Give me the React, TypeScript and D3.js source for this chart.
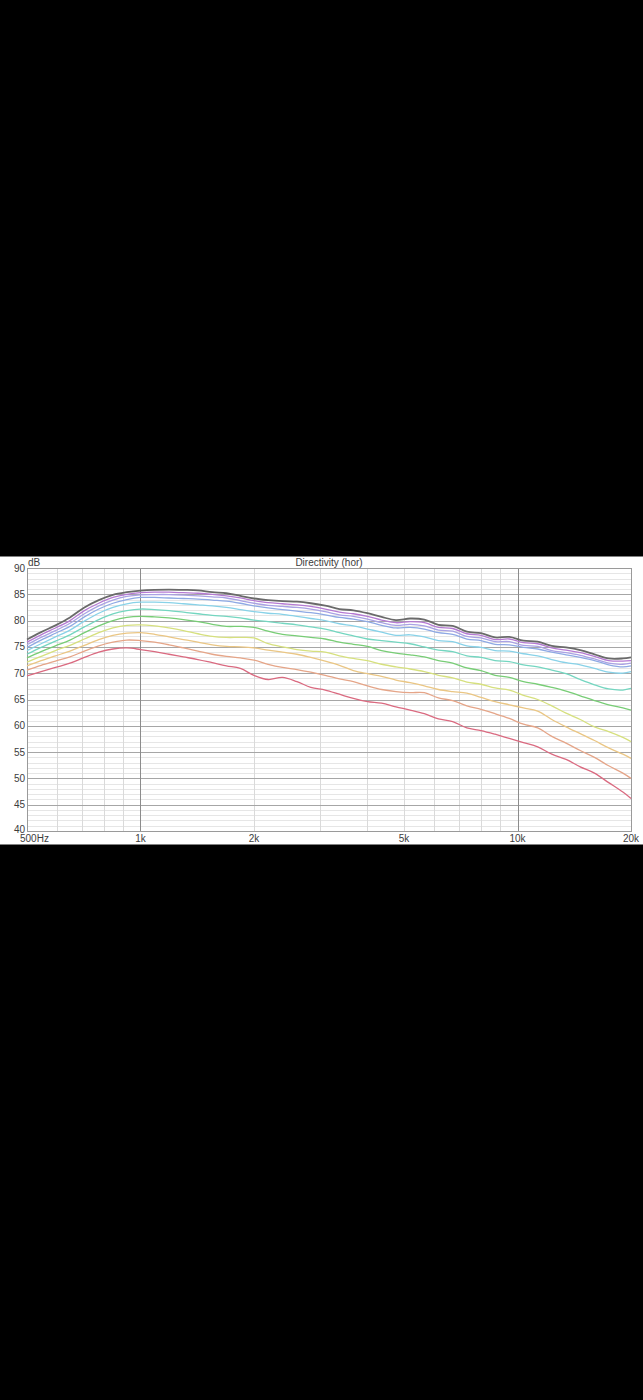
import React from 'react';
import * as d3 from 'd3';

// frequency points (Hz) shared by every curve
const FREQS = [
  500, 545, 595, 650, 710, 775, 845, 920, 1000, 1090, 1190, 1300, 1420, 1550, 1690, 1840,
  2000, 2180, 2380, 2600, 2830, 3090, 3370, 3670, 4000, 4360, 4760, 5190, 5660, 6170, 6730,
  7340, 8000, 8720, 9510, 10370, 11310, 12330, 13450, 14670, 16000, 17450, 19030, 20000,
];

// SPL (dB), one array per off-axis curve
const CURVE_0 = [
  76.4, 77.8, 79.1, 80.6, 82.5, 83.9, 84.9, 85.4, 85.7, 85.85, 85.9, 85.85, 85.75, 85.4, 85.2, 84.7,
  84.2, 83.9, 83.7, 83.6, 83.3, 82.85, 82.2, 81.95, 81.4, 80.7, 80.1, 80.4, 80.2, 79.2, 79.0,
  77.9, 77.6, 76.8, 76.9, 76.2, 76.0, 75.2, 74.9, 74.4, 73.6, 72.8, 72.8, 73.0,
];
const CURVE_1 = [
  75.9, 77.3, 78.6, 80.0, 81.9, 83.3, 84.4, 85.0, 85.3, 85.4, 85.4, 85.3, 85.2, 85.0, 84.7, 84.3,
  83.8, 83.4, 83.2, 83.0, 82.7, 82.2, 81.6, 81.3, 80.8, 80.1, 79.6, 79.8, 79.6, 78.7, 78.5,
  77.5, 77.2, 76.4, 76.5, 75.8, 75.6, 74.8, 74.4, 73.9, 73.2, 72.4, 72.3, 72.4,
];
const CURVE_2 = [
  75.4, 76.8, 78.1, 79.5, 81.3, 82.8, 83.9, 84.6, 84.9, 84.95, 84.95, 84.85, 84.7, 84.5, 84.3, 83.8,
  83.3, 82.9, 82.7, 82.5, 82.2, 81.7, 81.1, 80.8, 80.3, 79.6, 79.1, 79.3, 79.0, 78.2, 78.0,
  77.0, 76.7, 76.0, 76.0, 75.3, 75.1, 74.3, 73.9, 73.4, 72.7, 71.9, 71.7, 71.9,
];
const CURVE_3 = [
  74.9, 76.3, 77.6, 78.9, 80.7, 82.2, 83.3, 84.0, 84.4, 84.4, 84.3, 84.2, 84.1, 83.9, 83.7, 83.3,
  82.8, 82.4, 82.1, 81.8, 81.5, 81.1, 80.6, 80.3, 79.8, 79.1, 78.6, 78.7, 78.4, 77.7, 77.4,
  76.5, 76.2, 75.5, 75.4, 74.9, 74.6, 74.0, 73.5, 73.0, 72.4, 71.6, 71.2, 71.4,
];
const CURVE_4 = [
  74.3, 75.6, 76.9, 78.2, 79.9, 81.4, 82.5, 83.2, 83.5, 83.5, 83.4, 83.2, 83.0, 82.8, 82.5, 82.1,
  81.7, 81.4, 81.2, 80.8, 80.4, 80.0, 79.4, 79.0, 78.4, 77.8, 77.2, 77.3, 76.9, 76.2, 76.0,
  75.2, 74.9, 74.3, 74.2, 73.7, 73.3, 72.6, 72.0, 71.6, 70.9, 70.2, 70.0, 70.3,
];
const CURVE_5 = [
  73.6, 74.9, 76.1, 77.3, 78.8, 80.2, 81.3, 81.9, 82.2, 82.1, 81.9, 81.6, 81.3, 81.0, 80.8, 80.5,
  80.1, 79.8, 79.5, 79.2, 78.8, 78.4, 77.7, 77.1, 76.5, 76.2, 75.9, 75.6, 75.0, 74.4, 74.1,
  73.3, 73.0, 72.4, 72.2, 71.6, 71.2, 70.6, 69.9, 68.8, 67.8, 67.0, 66.8, 67.1,
];
const CURVE_6 = [
  72.9, 74.1, 75.2, 76.3, 77.7, 79.0, 80.0, 80.6, 80.8, 80.7, 80.5, 80.2, 79.8, 79.3, 78.9, 78.9,
  78.7, 78.0, 77.4, 77.1, 76.8, 76.5, 75.9, 75.5, 75.1, 74.3, 73.8, 73.5, 73.1, 72.4, 71.9,
  71.0, 70.5, 69.6, 69.2, 68.4, 67.9, 67.3, 66.6, 65.7, 64.8, 64.0, 63.4, 63.0,
];
const CURVE_7 = [
  72.1, 73.2, 74.3, 75.3, 76.5, 77.7, 78.6, 79.1, 79.2, 79.0, 78.6, 78.1, 77.5, 77.0, 76.8, 76.8,
  76.7, 75.6, 75.0, 74.5, 74.2, 74.0, 73.3, 72.8, 72.4, 71.7, 71.2, 70.8, 70.3, 69.6, 69.1,
  68.3, 67.9, 67.2, 66.8, 65.8, 65.0, 63.8, 62.4, 61.2, 59.8, 58.9, 57.8, 57.0,
];
const CURVE_8 = [
  71.4, 72.4, 73.3, 74.2, 75.3, 76.4, 77.2, 77.6, 77.7, 77.4, 76.9, 76.4, 75.9, 75.4, 75.1, 75.0,
  74.8, 74.4, 74.0, 73.6, 73.0, 72.3, 71.5, 70.5, 69.9, 69.4, 68.7, 68.2, 67.6, 66.9, 66.5,
  66.2, 65.4, 64.6, 64.0, 63.4, 62.8, 61.2, 59.8, 58.5, 57.2, 55.8, 54.6, 53.8,
];
const CURVE_9 = [
  70.6, 71.5, 72.3, 73.1, 74.2, 75.2, 75.9, 76.3, 76.2, 75.9, 75.4, 74.8, 74.2, 73.6, 73.2, 72.9,
  72.5, 71.7, 71.1, 70.7, 70.2, 69.6, 68.9, 68.4, 67.6, 66.9, 66.5, 66.3, 66.3, 65.3, 64.8,
  63.8, 63.1, 62.3, 61.4, 60.3, 59.6, 58.0, 56.7, 55.3, 54.0, 52.4, 51.0, 50.0,
];
const CURVE_10 = [
  69.5, 70.3, 71.1, 71.9, 73.0, 74.0, 74.6, 74.8, 74.5, 74.1, 73.6, 73.1, 72.6, 72.0, 71.4, 70.9,
  69.6, 68.8, 69.2, 68.4, 67.3, 66.8, 66.0, 65.2, 64.6, 64.3, 63.6, 63.0, 62.3, 61.3, 60.8,
  59.6, 59.1, 58.4, 57.6, 56.8, 56.0, 54.6, 53.6, 52.2, 51.0, 49.2, 47.4, 46.2,
];

const CURVES = [CURVE_0, CURVE_1, CURVE_2, CURVE_3, CURVE_4, CURVE_5, CURVE_6, CURVE_7, CURVE_8, CURVE_9, CURVE_10];
const CURVE_COLORS = [
  '#6a6a6a', '#b57ad3', '#aaa2e4', '#8ea9e4', '#88d2e8', '#74d6c0',
  '#78cd76', '#d6e07e', '#eac684', '#e5a588', '#da6a80',
];

const Y_TICKS = [40, 45, 50, 55, 60, 65, 70, 75, 80, 85, 90];
const X_LABELS: [number, string][] = [
  [500, '500Hz'], [1000, '1k'], [2000, '2k'], [5000, '5k'], [10000, '10k'], [20000, '20k'],
];
const X_MINOR = [600, 700, 800, 900, 2000, 3000, 4000, 5000, 6000, 7000, 8000, 9000];
const X_MAJOR = [1000, 10000];

const W = 643;
const H = 1400;
const left = 27;
const right = 631;
const top = 568;
const bottom = 831;
const font = '"Liberation Sans", Arial, sans-serif';

const App: React.FC = () => {
  const x = d3.scaleLog().domain([500, 20000]).range([left, right]);
  const y = d3.scaleLinear().domain([40, 90]).range([bottom, top]);

  const line = d3.line<number>()
    .x((_, i) => x(FREQS[i]))
    .y(d => y(d))
    .curve(d3.curveCatmullRom.alpha(0.5));

  const minorDb = d3.range(41, 90).filter(v => v % 5 !== 0);
  const majorDb = d3.range(45, 90, 5);

  return (
    <div style={{ position: 'fixed', left: 0, top: 0, width: W, height: H, background: '#000' }}>
      <svg width={W} height={H} style={{ display: 'block' }}>
        <rect x={0} y={556.5} width={W} height={288} fill="#fff" />

        {/* minor grid */}
        {minorDb.map(v => (
          <line key={'hm' + v} x1={left} x2={right} y1={Math.round(y(v)) + 0.5} y2={Math.round(y(v)) + 0.5}
            stroke="#e6e6e6" strokeWidth={1} />
        ))}
        {X_MINOR.map(f => (
          <line key={'vm' + f} x1={Math.round(x(f)) + 0.5} x2={Math.round(x(f)) + 0.5} y1={top} y2={bottom}
            stroke="#dadada" strokeWidth={1} />
        ))}
        {/* major grid */}
        {majorDb.map(v => (
          <line key={'hM' + v} x1={left} x2={right} y1={Math.round(y(v)) + 0.5} y2={Math.round(y(v)) + 0.5}
            stroke="#a6a6a6" strokeWidth={1.2} />
        ))}
        {X_MAJOR.map(f => (
          <line key={'vM' + f} x1={Math.round(x(f)) + 0.5} x2={Math.round(x(f)) + 0.5} y1={top} y2={bottom}
            stroke="#8c8c8c" strokeWidth={1} />
        ))}
        <rect x={left + 0.5} y={top + 0.5} width={right - left} height={bottom - top}
          fill="none" stroke="#9a9a9a" strokeWidth={1} />

        {/* curves, 0° drawn last so it sits on top */}
        {CURVES.map((c, i) => ({ c, i })).reverse().map(({ c, i }) => (
          <path key={'c' + i} d={line(c) || ''} fill="none" stroke={CURVE_COLORS[i]}
            strokeWidth={i === 0 ? 1.8 : 1.3} strokeLinejoin="round" />
        ))}

        {/* texts */}
        <g fontFamily={font} fontSize={10} fill="#3c3c3c">
          {Y_TICKS.map(v => (
            <text key={'yl' + v} x={25} y={v === 40 ? y(v) - 1.5 : y(v)} dy="0.35em" textAnchor="end">{v}</text>
          ))}
          {X_LABELS.map(([f, label]) => (
            <text key={'xl' + f} x={f === 500 ? x(f) - 7 : x(f)} y={842}
              textAnchor={f === 500 ? 'start' : 'middle'}>{label}</text>
          ))}
          <text x={28} y={566}>dB</text>
          <text x={329} y={566} textAnchor="middle">Directivity (hor)</text>
        </g>
      </svg>
    </div>
  );
};

export default App;
